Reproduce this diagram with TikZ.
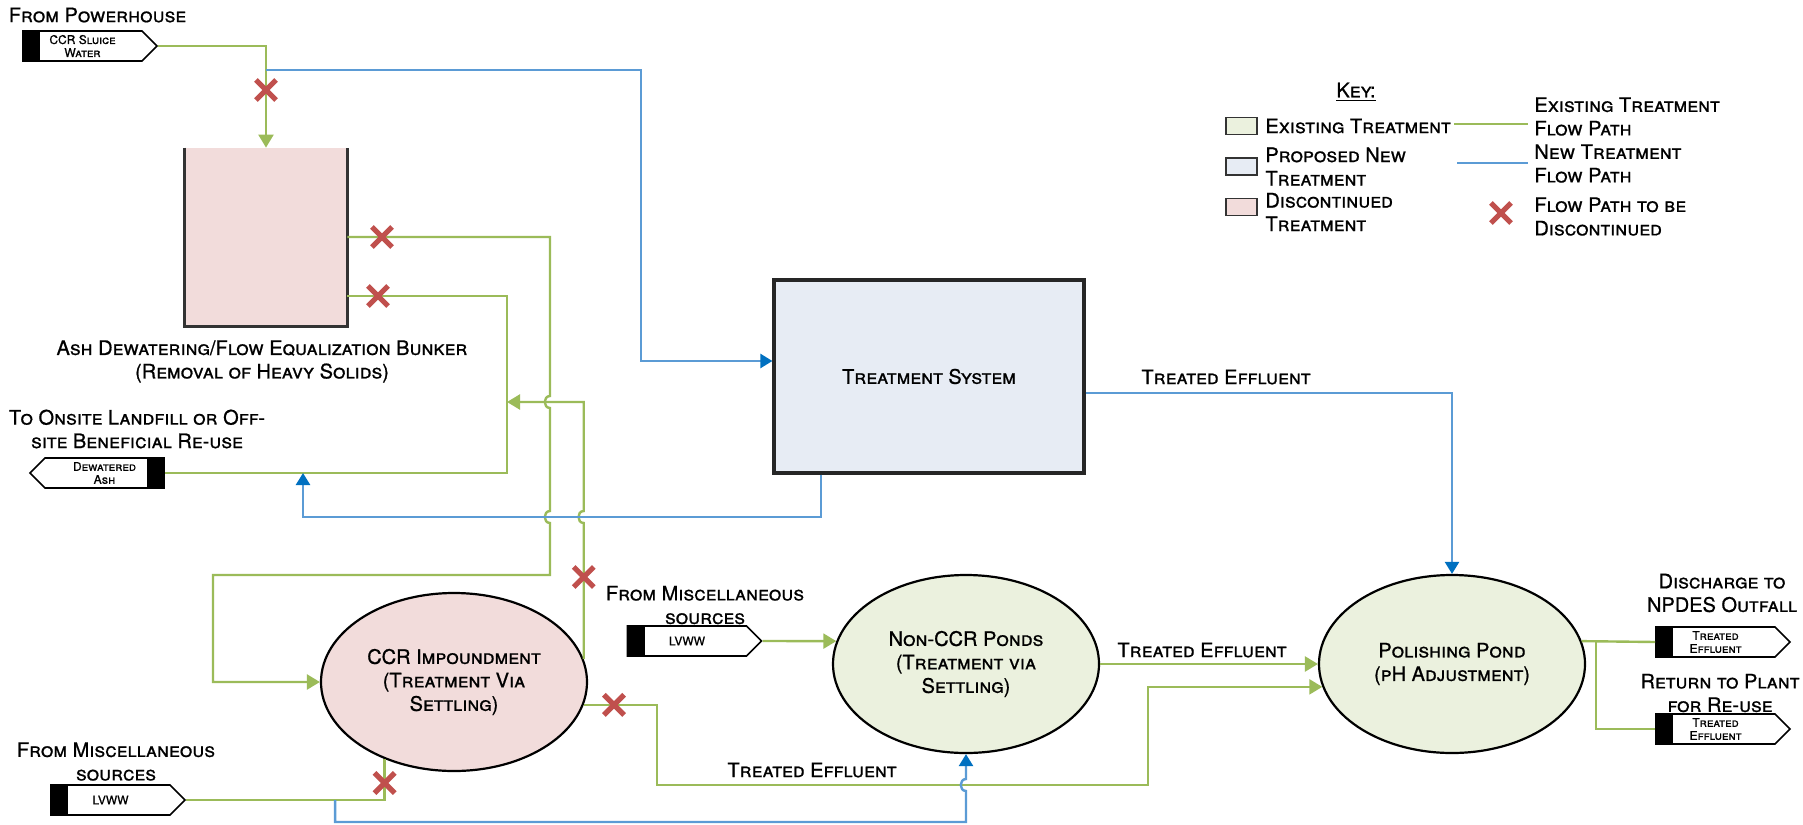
\documentclass[tikz,border=0pt]{standalone}
\usepackage{fontspec}
\setmainfont{TeX Gyre Heros}[FakeBold=0.8]
\usetikzlibrary{arrows.meta,shapes.geometric,shapes.symbols,shapes.misc}
\definecolor{flowgreen}{HTML}{9BBB59}
\definecolor{flowblue}{HTML}{5B9BD5}
\definecolor{tipblue}{HTML}{0070C0}
\definecolor{xred}{HTML}{C0504D}
\definecolor{existfill}{HTML}{EBF1DE}
\definecolor{newfill}{HTML}{E7ECF4}
\definecolor{discfill}{HTML}{F2DCDB}

\begin{document}
\begin{tikzpicture}[x=0.5pt,y=-0.5pt,
	note/.style={align=center,inner sep=0pt,font=\fontsize{10}{11.75}\selectfont\scshape},
	flow/.style={draw=flowgreen,line width=1.2pt},
	newflow/.style={draw=flowblue,line width=1.2pt},
	gtip/.style={-{Triangle[length=6.5pt,width=7.5pt,color=flowgreen]}},
	btip/.style={-{Triangle[length=6pt,width=7pt,color=tipblue]}},
	pond/.style={note,ellipse,draw=black,line width=1.1pt,minimum width=133pt,minimum height=89pt,inner sep=-3pt},
	wall/.style={draw=black!80,line width=1.4pt},
	xmark/.style={cross out,draw=xred,line width=2.6pt,minimum size=7.5pt,inner sep=0pt},
	swatch/.style={draw=black!80,line width=0.8pt,minimum width=15.5pt,minimum height=8.5pt,inner sep=0pt},
	tagE/.style={signal,signal to=east,draw=black,fill=white,line width=0.8pt,minimum width=67pt,minimum height=15pt,inner sep=0pt,align=center,font=\fontsize{6}{6.5}\selectfont\scshape,
		path picture={\fill[black] (path picture bounding box.south west) rectangle ([xshift=8.5pt]path picture bounding box.north west);}},
	tagW/.style={tagE,signal to=west,
		path picture={\fill[black] ([xshift=-8.5pt]path picture bounding box.south east) rectangle (path picture bounding box.north east);}}]
	\useasboundingbox (0,0) rectangle (1803,824);

	\node (fromph) at (97.5,15) [note] {From Powerhouse};
	\node (sluice) at (82.5,46) [tagE] {CCR Sluice\\Water};
	\node (bunker) at (266,237) [fill=discfill,minimum width=81pt,minimum height=89pt,inner sep=0pt] {};
	\draw [wall] (bunker.north west) |- (bunker.south east) -- (bunker.north east);
	\node (bunkerlbl) at (262,361.5) [note] {Ash Dewatering/Flow Equalization Bunker\\(Removal of Heavy Solids)};
	\node (landfill) at (137,429) [note] {To Onsite Landfill or Off-\\site Beneficial Re-use};
	\node (ash) at (104.5,473) [tagW] {Dewatered\\Ash};
	\node (treat) at (929,376.5) [note,draw=black!85,fill=newfill,line width=1.6pt,minimum width=155pt,minimum height=96.5pt] {Treatment System};
	\node (ccr) at (454,682) [pond,fill=discfill] {CCR Impoundment\\(Treatment Via\\Settling)};
	\node (noncr) at (966,664) [pond,fill=existfill] {Non-CCR Ponds\\(Treatment via\\Settling)};
	\node (polish) at (1452,664) [pond,fill=existfill] {Polishing Pond\\(pH Adjustment)};
	\node (misc1) at (116,761.5) [note] {From Miscellaneous\\sources};
	\node (lvww1) at (110.5,800) [tagE] {LVWW};
	\node (misc2) at (705,605) [note] {From Miscellaneous\\sources};
	\node (lvww2) at (687,641) [tagE] {LVWW};
	\node (npdes) at (1722,593) [note] {Discharge to\\NPDES Outfall};
	\node (out1) at (1715.5,642) [tagE] {Treated\\Effluent};
	\node (reuse) at (1720,693) [note] {Return to Plant\\for Re-use};
	\node (out2) at (1715.5,729) [tagE] {Treated\\Effluent};
	\node (eff1) at (1226,377) [note] {Treated Effluent};
	\node (eff2) at (1202,650) [note] {Treated Effluent};
	\node (eff3) at (812,770) [note] {Treated Effluent};

	\path (sluice.east -| bunker.north) ++(0,24) coordinate (tap1);
	\coordinate (bend1) at (641,200);
	\coordinate (h1) at (550,402);
	\coordinate (h2) at (550,517);
	\coordinate (bend2) at (213,575);
	\coordinate (bend3) at (507,473);
	\coordinate (h3) at (ccr.10 |- h2);
	\coordinate (j2) at (ccr.10 |- h1);
	\coordinate (bend4) at (657,785);
	\coordinate (bend5) at (1148,785);
	\coordinate (h5) at (noncr.south |- bend4);
	\path (lvww1.east) ++(149,0) coordinate (tap2);
	\coordinate (bend6) at (tap2 |- 0,822);
	\coordinate (bend7) at (303,517);
	\path (out1.west) ++(-59,0) coordinate (tap3);

	\draw [flow,gtip] (sluice.east) -| (bunker.north);
	\draw [newflow,btip] (tap1) -| (bend1) |- ([yshift=7.75pt]treat.west);
	\draw [flow,gtip] (bunker.east) -| ([yshift=3pt]h1)
		.. controls ([shift={(-3.5pt,3pt)}]h1) and ([shift={(-3.5pt,-3pt)}]h1) .. ([yshift=-3pt]h1)
		-- ([yshift=3pt]h2)
		.. controls ([shift={(-3.5pt,3pt)}]h2) and ([shift={(-3.5pt,-3pt)}]h2) .. ([yshift=-3pt]h2)
		|- (bend2) |- (ccr.west);
	\draw [flow] ([yshift=-29.5pt]bunker.east) -| (bend3) -- (ash.east);
	\draw [flow,gtip] (ccr.10) -- ([yshift=-3pt]h3)
		.. controls ([shift={(-3.5pt,-3pt)}]h3) and ([shift={(-3.5pt,3pt)}]h3) .. ([yshift=3pt]h3)
		-- (j2) -- (bend3 |- h1);
	\draw [flow,gtip] (ccr.350) -| (bend4) -- (bend5) |- (polish.190);
	\draw [flow] (lvww1.east) -| (ccr.228);
	\draw [newflow,btip] (tap2) -- (bend6) -| ([yshift=-3pt]h5)
		.. controls ([shift={(-3.5pt,-3pt)}]h5) and ([shift={(-3.5pt,3pt)}]h5) .. ([yshift=3pt]h5)
		-- (noncr.south);
	\draw [flow,gtip] (lvww2.east) -- (noncr.170);
	\draw [flow,gtip] (noncr.east) -- (polish.west);
	\draw [newflow,btip] ([yshift=-8.25pt]treat.east) -| (polish.north);
	\draw [newflow,btip] ([xshift=-54pt]treat.south) |- (bend7) -- (bend7 |- ash.east);
	\draw [flow] (polish.10) -- (out1.west);
	\draw [flow] (tap3) |- (out2.west);

	\node (x1) at (266,90) [xmark] {};
	\node (x2) at (382,237) [xmark] {};
	\node (x3) at (378,296) [xmark] {};
	\node (x4) at (h3 |- 0,577) [xmark] {};
	\node (x5) at (614,0 |- ccr.350) [xmark] {};
	\node (x6) at (ccr.228 |- 0,783) [xmark] {};

	\node (key) at (1356,92) [note] {\underline{Key:}};
	\node (k1) at (1241.5,126) [swatch,fill=existfill] {};
	\node (k2) at (1241.5,166.5) [swatch,fill=newfill] {};
	\node (k3) at (1241.5,207) [swatch,fill=discfill] {};
	\node (k1t) at (1265,126) [note,anchor=west] {Existing Treatment};
	\node (k2t) at (1265,166.5) [note,anchor=west,align=left] {Proposed New\\Treatment};
	\node (k3t) at (1265,212) [note,anchor=west,align=left] {Discontinued\\Treatment};
	\coordinate (kg1) at (1454,124);
	\coordinate (kg2) at (1528,124);
	\coordinate (kb1) at (1457,163);
	\coordinate (kb2) at (1528,163);
	\draw [flow] (kg1) -- (kg2);
	\draw [newflow] (kb1) -- (kb2);
	\node (kgt) at (1534,116.5) [note,anchor=west,align=left] {Existing Treatment\\Flow Path};
	\node (kbt) at (1534,163.5) [note,anchor=west,align=left] {New Treatment\\Flow Path};
	\node (kxt) at (1534,216.5) [note,anchor=west,align=left] {Flow Path to be\\Discontinued};
	\node (kx) at (1501,213) [xmark] {};
\end{tikzpicture}
\end{document}
